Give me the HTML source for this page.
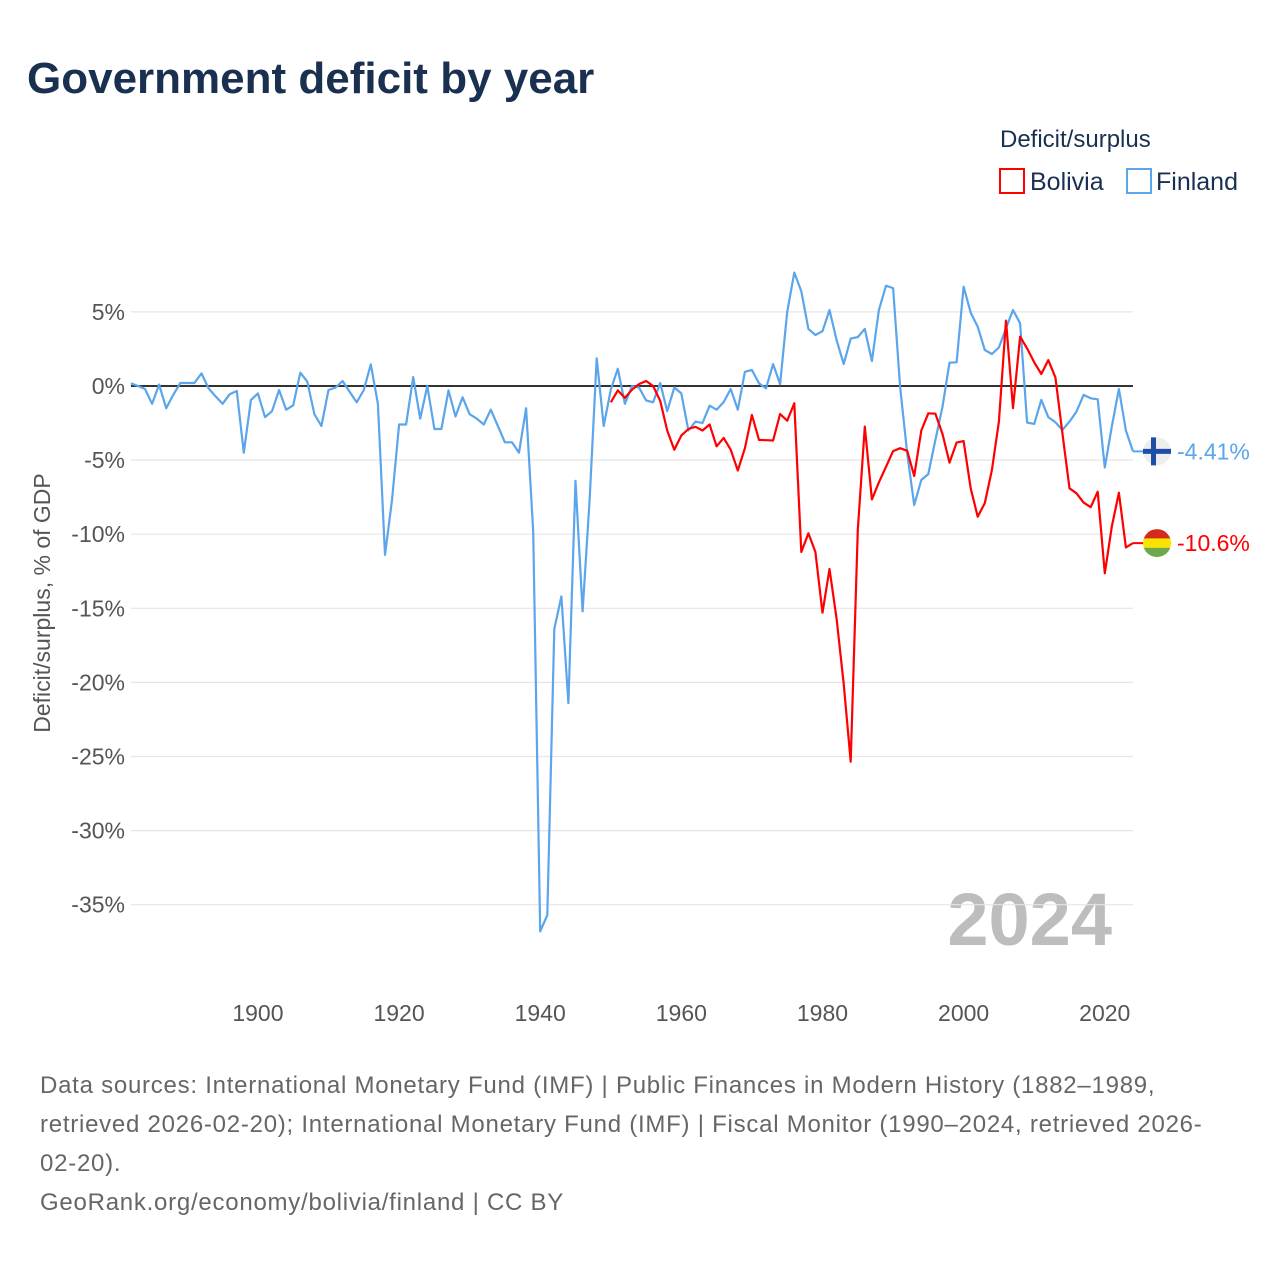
<!DOCTYPE html>
<html><head><meta charset="utf-8"><style>
body{margin:0;background:#fff;font-family:"Liberation Sans",sans-serif;}
#wrap{position:relative;width:1280px;height:1280px;overflow:hidden;}
</style></head><body>
<div id="wrap">
<svg id="chart" width="1280" height="1280" xmlns="http://www.w3.org/2000/svg">
<text x="27" y="93" font-size="44" font-weight="bold" fill="#1a3050">Government deficit by year</text>
<text x="1000" y="147" font-size="24" fill="#1a3050">Deficit/surplus</text>
<g><rect x="1000" y="169" width="24" height="24" fill="none" stroke="#f00" stroke-width="2"/><text x="1030" y="190" font-size="25" fill="#1a3050">Bolivia</text></g>
<g><rect x="1127" y="169" width="24" height="24" fill="none" stroke="#5aa5eb" stroke-width="2"/><text x="1156" y="190" font-size="25" fill="#1a3050">Finland</text></g>
<text transform="translate(50,603) rotate(-90)" text-anchor="middle" font-size="23" fill="#555">Deficit/surplus, % of GDP</text>
<text x="1112" y="945" text-anchor="end" font-size="74" font-weight="bold" fill="#bdbdbd">2024</text>
<g id="grid"></g><g id="series"></g><g id="labels"></g>
<g font-size="24" fill="#666" letter-spacing="0.75">
<text x="40" y="1093">Data sources: International Monetary Fund (IMF) | Public Finances in Modern History (1882–1989,</text>
<text x="40" y="1132">retrieved 2026-02-20); International Monetary Fund (IMF) | Fiscal Monitor (1990–2024, retrieved 2026-</text>
<text x="40" y="1171">02-20).</text>
<text x="40" y="1210">GeoRank.org/economy/bolivia/finland | CC BY</text>
</g>
</svg>
</div>
<script>
const finStart = 1882;
const finland = [0.18,0.0,-0.2,-1.2,0.1,-1.5,-0.6,0.2,0.2,0.2,0.85,-0.15,-0.7,-1.2,-0.55,-0.34,-4.5,-0.95,-0.5,-2.1,-1.7,-0.27,-1.6,-1.3,0.9,0.3,-1.9,-2.7,-0.27,-0.1,0.34,-0.4,-1.1,-0.27,1.46,-1.2,-11.4,-7.7,-2.6,-2.6,0.6,-2.2,0,-2.9,-2.9,
-0.3,-2.06,-0.76,-1.9,-2.2,-2.6,-1.6,-2.7,-3.8,-3.8,-4.5,-1.5,-9.8,-36.8,-35.7,-16.4,-14.2,-21.4,-6.4,-15.2,-7.7,1.87,-2.7,-0.25,1.17,-1.2,0,-0.1,-0.97,-1.1,0.2,-1.7,-0.1,-0.5,-3.0,-2.4,-2.5,-1.33,-1.6,-1.08,-0.2,-1.6,0.96,
1.08,0.18,-0.16,1.48,0.13,5.0,7.65,6.4,3.85,3.44,3.7,5.13,3.1,1.48,3.2,3.3,3.85,1.69,5.13,6.77,6.6,-0.04,-4.54,-8.03,-6.34,-5.94,-3.64,-1.4,1.57,1.6,6.7,4.95,4.0,2.43,2.16,2.6,3.9,5.13,4.23,-2.47,-2.56,-0.94,-2.1,-2.45,-2.97,-2.4,-1.73,-0.6,-0.83,-0.9,-5.5,-2.74,-0.2,-3.0,-4.41];
const bolStart = 1950;
const bolivia = [-1.1,-0.3,-0.8,-0.25,0.13,0.34,0,-1.0,-3.0,-4.3,-3.35,-2.9,-2.75,-3.0,-2.6,-4.07,-3.5,-4.3,-5.7,-4.2,
-1.96,-3.64,-3.66,-3.68,-1.89,-2.34,-1.17,-11.2,-9.94,-11.2,-15.3,-12.35,-15.7,-20.1,-25.35,-9.7,-2.74,-7.65,-6.5,-5.45,-4.39,-4.2,-4.37,-6.07,-3.0,-1.84,-1.87,-3.24,-5.17,-3.82,-3.72,-6.9,-8.82,-7.9,-5.67,-2.4,4.41,-1.5,3.33,2.54,1.6,0.81,1.75,0.58,-3.19,-6.9,-7.24,-7.87,-8.18,-7.13,-12.64,-9.49,-7.2,-10.9,-10.6];
const yTicks = [5,0,-5,-10,-15,-20,-25,-30,-35];
const xTicks = [1900,1920,1940,1960,1980,2000,2020];

const NS='http://www.w3.org/2000/svg';
const X0=130.9, X1=1133, yr0=1882, yr1=2024;
const xs = y => X0 + (y-yr0)*(X1-X0)/(yr1-yr0);
const ys = v => 386 - v*14.82;
function mk(tag, attrs, parent){const e=document.createElementNS(NS,tag);for(const k in attrs)e.setAttribute(k,attrs[k]);parent.appendChild(e);return e;}
const grid=document.getElementById('grid'), series=document.getElementById('series'), labels=document.getElementById('labels');
yTicks.forEach(t=>{
  const l=mk('line',{x1:X0,x2:X1,y1:ys(t),y2:ys(t),stroke:t===0?'#333':'#e6e6e6','stroke-width':t===0?2:1.2},grid);
  
  
  const tx=mk('text',{x:125,y:ys(t)+8,'text-anchor':'end','font-size':23,fill:'#555'},labels);
  tx.textContent=t+'%';
  
  
});
xTicks.forEach(t=>{
  const tx=mk('text',{x:xs(t),y:1021,'text-anchor':'middle','font-size':23,fill:'#555'},labels);
  tx.textContent=t;
  
  
});
function line(data,start,color,name){
  const pts=data.map((v,i)=>xs(start+i).toFixed(1)+','+ys(v).toFixed(1)).join(' ');
  const p=mk('polyline',{points:pts,fill:'none',stroke:color,'stroke-width':2.2,'stroke-linejoin':'round'},series);
  
  
}
line(finland,finStart,'#5aa5eb','finland-line');
line(bolivia,bolStart,'#f00','bolivia-line');
const fv=finland[finland.length-1], bv=bolivia[bolivia.length-1];
const fy=ys(fv), by=ys(bv), cx=1157;
let g=mk('g',{},labels);


mk('line',{x1:X1,x2:cx,y1:fy,y2:fy,stroke:'#5aa5eb','stroke-width':2},g);
mk('circle',{cx:cx,cy:fy,r:14,fill:'#eee'},g);
mk('rect',{x:cx-14,y:fy-2.5,width:28,height:5,fill:'#1e4ea8'},g);
mk('rect',{x:cx-6,y:fy-14,width:5,height:28,fill:'#1e4ea8'},g);
let t=mk('text',{x:1177,y:fy+8,'font-size':23,fill:'#5aa5eb'},labels);
t.textContent=fv.toFixed(2)+'%';


g=mk('g',{},labels);


mk('line',{x1:X1,x2:cx,y1:by,y2:by,stroke:'#f00','stroke-width':2},g);
const cp=mk('clipPath',{id:'bc'},g); mk('circle',{cx:cx,cy:by,r:14},cp);
mk('rect',{x:cx-14,y:by-14,width:28,height:10,fill:'#d52b1e','clip-path':'url(#bc)'},g);
mk('rect',{x:cx-14,y:by-4.7,width:28,height:9.4,fill:'#f9e300','clip-path':'url(#bc)'},g);
mk('rect',{x:cx-14,y:by+4.7,width:28,height:10,fill:'#6fa84a','clip-path':'url(#bc)'},g);
t=mk('text',{x:1177,y:by+8,'font-size':23,fill:'#f00'},labels);
t.textContent=bv.toFixed(1)+'%';


</script>
</body></html>
